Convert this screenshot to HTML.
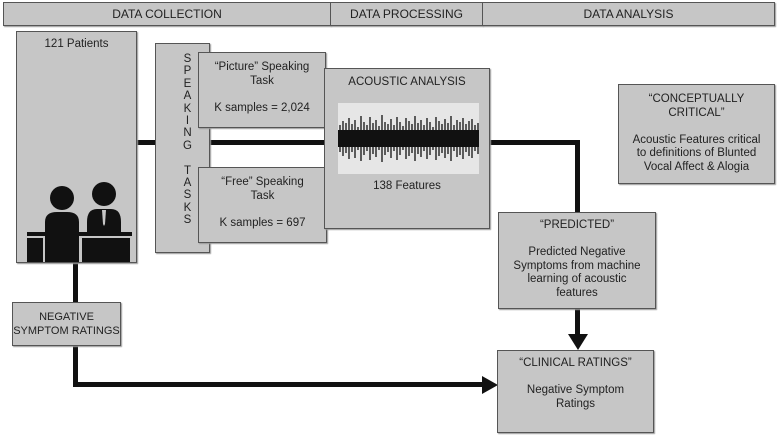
<!DOCTYPE html>
<html><head><style>
body{margin:0;width:778px;height:438px;background:#fff;position:relative;font-family:"Liberation Sans",sans-serif;color:#222;overflow:hidden}
.b{position:absolute;background:#c6c6c6;border:1px solid #555;box-sizing:border-box;text-align:center;font-size:11.5px;line-height:13.5px;box-shadow:1px 1px 1px #999;white-space:nowrap}
.l{position:absolute;background:#111}
</style></head><body>
<div class="b" style="left:3px;top:2px;width:328px;height:24px;line-height:22px;font-size:12px">DATA COLLECTION</div>
<div class="b" style="left:330px;top:2px;width:153px;height:24px;line-height:22px;font-size:12px">DATA PROCESSING</div>
<div class="b" style="left:482px;top:2px;width:293px;height:24px;line-height:22px;font-size:12px">DATA ANALYSIS</div>

<div class="l" style="left:136px;top:140px;width:20px;height:5px"></div>
<div class="l" style="left:210px;top:140px;width:115px;height:5px"></div>
<div class="l" style="left:488px;top:140px;width:92px;height:5px"></div>
<div class="l" style="left:575px;top:140px;width:5px;height:73px"></div>
<div class="l" style="left:575px;top:307px;width:5px;height:30px"></div>
<svg style="position:absolute;left:568px;top:334px" width="20" height="17"><polygon points="0,0 20,0 10,16" fill="#111"/></svg>
<div class="l" style="left:73px;top:261px;width:5px;height:126px"></div>
<div class="l" style="left:73px;top:382px;width:412px;height:5px"></div>
<svg style="position:absolute;left:482px;top:376px" width="16" height="18"><polygon points="0,0 16,9 0,18" fill="#111"/></svg>

<div class="b" style="left:16px;top:31px;width:121px;height:232px;padding-top:6px">121 Patients
<svg style="position:absolute;left:10px;top:150px" width="105" height="80">
<circle cx="35" cy="16" r="12" fill="#111"/><circle cx="77" cy="12" r="12" fill="#111"/>
<path d="M18 40 Q18 30 30 30 L40 30 Q52 30 52 40 L52 80 L18 80Z" fill="#111"/>
<path d="M60 40 Q60 27 70 27 L84 27 Q94 27 94 40 L94 50 L60 50Z" fill="#111"/>
<polygon points="75,28 79,28 78,42 77,44 76,42" fill="#c6c6c6"/>
<rect x="0" y="50" width="105" height="4" fill="#111"/>
<rect x="0" y="56" width="16" height="24" fill="#111"/><rect x="55" y="56" width="48" height="24" fill="#111"/>
</svg></div>
<div class="b" style="left:155px;top:43px;width:55px;height:210px;padding-top:9px;padding-left:10px;line-height:12.4px;font-size:11.5px">S<br>P<br>E<br>A<br>K<br>I<br>N<br>G<br><br>T<br>A<br>S<br>K<br>S</div>
<div class="b" style="left:198px;top:52px;width:128px;height:76px;padding-top:8px">“Picture” Speaking<br>Task<br><br>K samples = 2,024</div>
<div class="b" style="left:198px;top:167px;width:129px;height:76px;padding-top:8px">“Free” Speaking<br>Task<br><br>K samples = 697</div>
<div class="b" style="left:324px;top:68px;width:166px;height:161px;padding-top:7px">ACOUSTIC ANALYSIS
<svg style="position:absolute;left:13px;top:34px" width="141" height="71">
<rect width="141" height="71" fill="#e6e6e6"/>
<g stroke="#111" stroke-width="1.3">
<path d="M2 22V49M5 18V53M8 20V50M11 15V56M14 21V49M17 17V55M20 24V47M23 13V58M26 19V52M29 22V48M32 14V57M35 20V51M38 17V54M41 23V47M44 12V59M47 19V52M50 21V49M53 16V55M56 22V48M59 14V57M62 19V52M65 23V47M68 15V56M71 18V53M74 21V50M77 13V58M80 20V51M83 17V54M86 22V48M89 15V56M92 19V52M95 24V47M98 14V57M101 18V53M104 21V50M107 16V55M110 20V51M113 13V58M116 22V48M119 17V54M122 19V52M125 15V56M128 21V49M131 18V53M134 16V55M137 22V48M140 20V51"/>
</g>
<rect x="0" y="27" width="141" height="17" fill="#111"/>
</svg>
<div style="position:absolute;left:0;right:0;top:111px">138 Features</div></div>
<div class="b" style="left:618px;top:84px;width:157px;height:100px;padding-top:8px">“CONCEPTUALLY<br>CRITICAL”<br><br>Acoustic Features critical<br>to definitions of Blunted<br>Vocal Affect &amp; Alogia</div>
<div class="b" style="left:498px;top:212px;width:158px;height:97px;padding-top:6px">“PREDICTED”<br><br>Predicted Negative<br>Symptoms from machine<br>learning of acoustic<br>features</div>
<div class="b" style="left:497px;top:350px;width:157px;height:83px;padding-top:6px">“CLINICAL RATINGS”<br><br>Negative Symptom<br>Ratings</div>
<div class="b" style="left:12px;top:302px;width:109px;height:44px;padding-top:8px;font-size:11px">NEGATIVE<br>SYMPTOM RATINGS</div>
</body></html>
